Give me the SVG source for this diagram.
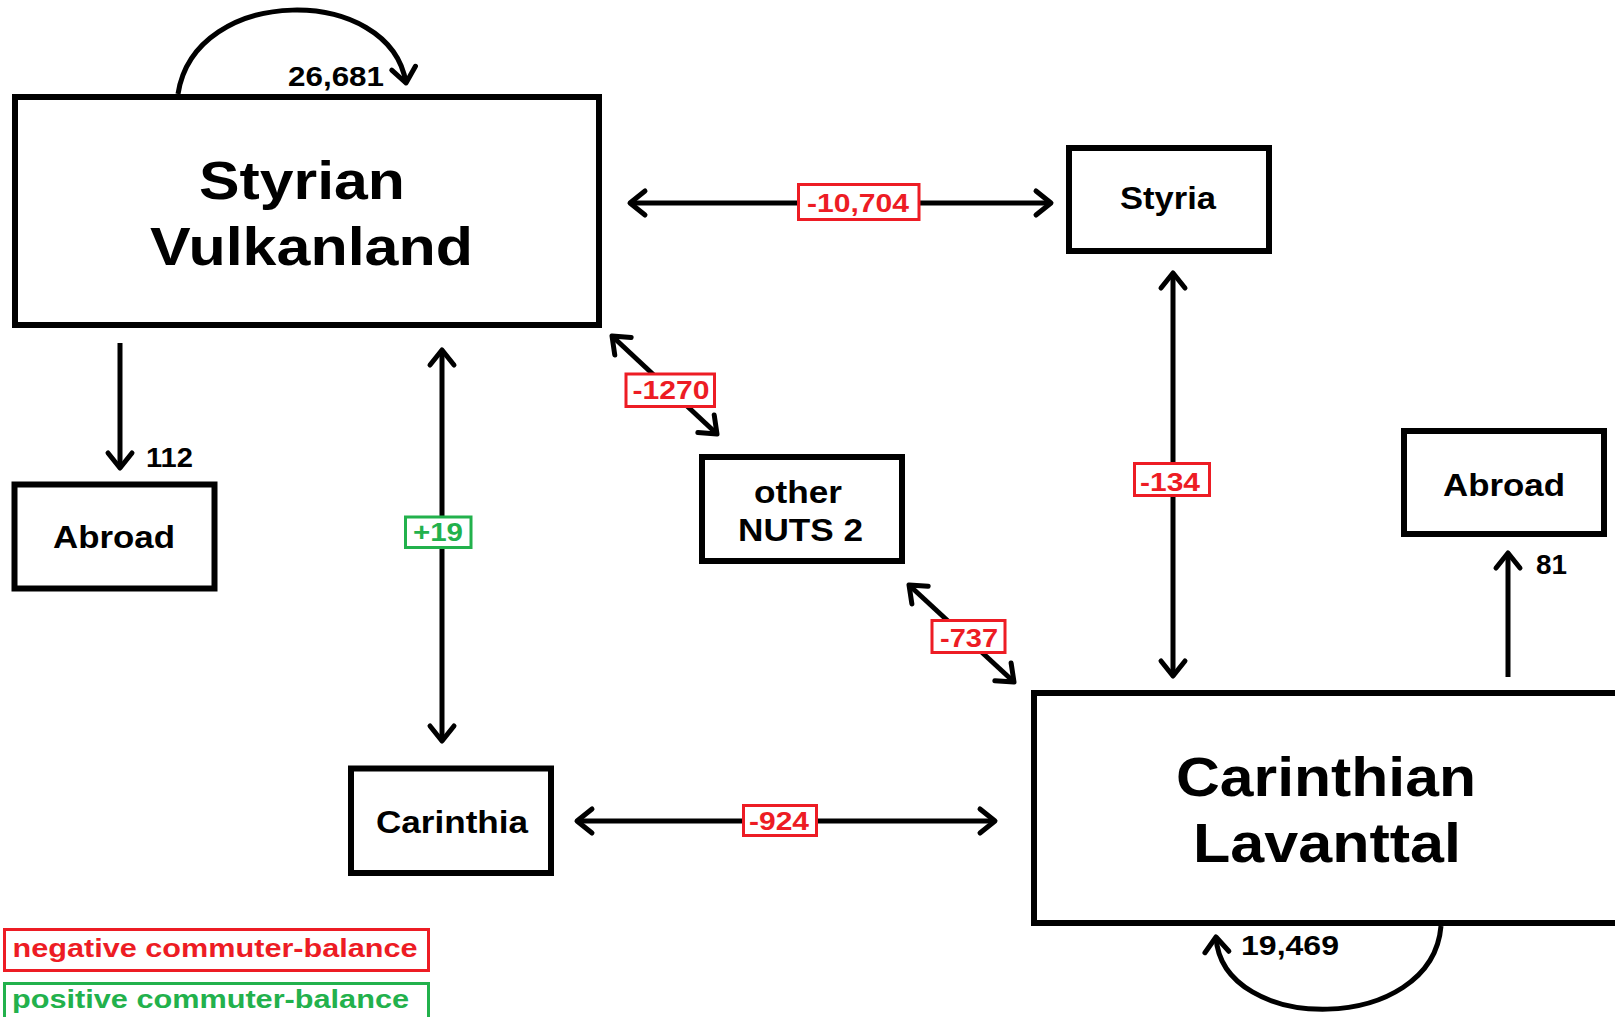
<svg xmlns="http://www.w3.org/2000/svg" width="1615" height="1017" viewBox="0 0 1615 1017">
<style>
.box{fill:#fff;stroke:#000;stroke-width:6}
.t{font-family:"Liberation Sans",Arial,sans-serif;font-weight:bold;fill:#000}
.big{font-size:54px}
.mid{font-size:32px}
.num{font-size:27px}
.lab{font-family:"Liberation Sans",Arial,sans-serif;font-weight:bold;font-size:26px}
.neg{fill:#ED1C24}
.pos{fill:#22B14C}
.nbox{fill:#fff;stroke:#ED1C24;stroke-width:3}
.pbox{fill:#fff;stroke:#22B14C;stroke-width:3}
.c{fill:none;stroke:#000;stroke-width:5}
</style>
<defs>
<marker id="ah" markerUnits="userSpaceOnUse" markerWidth="40" markerHeight="40" viewBox="-20 -20 40 40" refX="0" refY="0" orient="auto-start-reverse" overflow="visible">
<path d="M-15,-12 L0,0 L-15,12" fill="none" stroke="#000" stroke-width="5" stroke-linecap="round" stroke-linejoin="round"/>
</marker>
</defs>
<rect width="1615" height="1017" fill="#fff"/>
<g id="connectors">
<path class="c" d="M178,94 C195,-16 390,-16 406,83" marker-end="url(#ah)"/>
<path class="c" d="M120,343 L120,468" marker-end="url(#ah)"/>
<path class="c" d="M442,350 L442,741" marker-start="url(#ah)" marker-end="url(#ah)"/>
<path class="c" d="M630,203 L1051,203" marker-start="url(#ah)" marker-end="url(#ah)"/>
<path class="c" d="M612,336 L717,434" marker-start="url(#ah)" marker-end="url(#ah)"/>
<path class="c" d="M909,585 L1014,682" marker-start="url(#ah)" marker-end="url(#ah)"/>
<path class="c" d="M1173,273 L1173,676" marker-start="url(#ah)" marker-end="url(#ah)"/>
<path class="c" d="M1508,677 L1508,553" marker-end="url(#ah)"/>
<path class="c" d="M577,821 L995,821" marker-start="url(#ah)" marker-end="url(#ah)"/>
<path class="c" d="M1441,926 C1432,1035 1222,1035 1216,937" marker-end="url(#ah)"/>
</g>
<g id="edge-labels">
<text class="t num" x="336" y="86" text-anchor="middle" textLength="96" lengthAdjust="spacingAndGlyphs">26,681</text>
<text class="t num" x="146" y="466.5" textLength="47" lengthAdjust="spacingAndGlyphs">112</text>
<text class="t num" x="1536" y="574" textLength="31" lengthAdjust="spacingAndGlyphs">81</text>
<text class="t num" x="1241" y="955" textLength="98" lengthAdjust="spacingAndGlyphs">19,469</text>
<g id="lab-10704"><rect class="nbox" x="798.5" y="184.5" width="120.5" height="35"/><text class="lab neg" x="858" y="211.5" text-anchor="middle" textLength="102" lengthAdjust="spacingAndGlyphs">-10,704</text></g>
<g id="lab-1270"><rect class="nbox" x="626" y="374" width="88.5" height="32.5"/><text class="lab neg" x="671" y="399" text-anchor="middle" textLength="77" lengthAdjust="spacingAndGlyphs">-1270</text></g>
<g id="lab-737"><rect class="nbox" x="932" y="620.5" width="73" height="32"/><text class="lab neg" x="969" y="646.5" text-anchor="middle" textLength="58" lengthAdjust="spacingAndGlyphs">-737</text></g>
<g id="lab-134"><rect class="nbox" x="1134.5" y="463.5" width="75" height="32"/><text class="lab neg" x="1170" y="490.5" text-anchor="middle" font-size="28" textLength="60" lengthAdjust="spacingAndGlyphs">-134</text></g>
<g id="lab-924"><rect class="nbox" x="743.5" y="805.5" width="73" height="30"/><text class="lab neg" x="779" y="830" text-anchor="middle" textLength="60" lengthAdjust="spacingAndGlyphs">-924</text></g>
<g id="lab-19"><rect class="pbox" x="405.5" y="517" width="65.5" height="30.5"/><text class="lab pos" x="438" y="540.5" text-anchor="middle" textLength="50" lengthAdjust="spacingAndGlyphs">+19</text></g>
</g>
<g id="node-styrian-vulkanland">
<rect class="box" x="15" y="97" width="584" height="228"/>
<text class="t big" x="302" y="199" text-anchor="middle" textLength="206" lengthAdjust="spacingAndGlyphs">Styrian</text>
<text class="t big" x="311.5" y="265" text-anchor="middle" textLength="323" lengthAdjust="spacingAndGlyphs">Vulkanland</text>
</g>
<g id="node-styria">
<rect class="box" x="1069" y="148" width="200" height="103"/>
<text class="t mid" x="1168" y="209" text-anchor="middle" textLength="96" lengthAdjust="spacingAndGlyphs">Styria</text>
</g>
<g id="node-abroad-left">
<rect class="box" x="14.5" y="484.5" width="200" height="104"/>
<text class="t mid" x="114" y="548" text-anchor="middle" textLength="122" lengthAdjust="spacingAndGlyphs">Abroad</text>
</g>
<g id="node-other-nuts2">
<rect class="box" x="702" y="457" width="200" height="104"/>
<text class="t mid" x="798" y="503" text-anchor="middle" textLength="88" lengthAdjust="spacingAndGlyphs">other</text>
<text class="t mid" x="800.5" y="541" text-anchor="middle" textLength="125" lengthAdjust="spacingAndGlyphs">NUTS 2</text>
</g>
<g id="node-abroad-right">
<rect class="box" x="1404" y="431" width="200" height="103"/>
<text class="t mid" x="1504" y="496" text-anchor="middle" textLength="122" lengthAdjust="spacingAndGlyphs">Abroad</text>
</g>
<g id="node-carinthia">
<rect class="box" x="351" y="768.5" width="200" height="104.5"/>
<text class="t mid" x="452" y="833" text-anchor="middle" textLength="152" lengthAdjust="spacingAndGlyphs">Carinthia</text>
</g>
<g id="node-carinthian-lavanttal">
<rect class="box" x="1034" y="693" width="640" height="230"/>
<text class="t" font-size="56" x="1326" y="796" text-anchor="middle" textLength="300" lengthAdjust="spacingAndGlyphs">Carinthian</text>
<text class="t" font-size="56" x="1327" y="862" text-anchor="middle" textLength="268" lengthAdjust="spacingAndGlyphs">Lavanttal</text>
</g>
<g id="legend">
<rect class="nbox" x="4.5" y="929.5" width="424" height="41"/>
<text class="lab neg" font-size="25" x="12.6" y="956.5" textLength="405" lengthAdjust="spacingAndGlyphs">negative commuter-balance</text>
<rect class="pbox" x="4.5" y="983.5" width="424" height="50"/>
<text class="lab pos" font-size="25" x="12" y="1008" textLength="397" lengthAdjust="spacingAndGlyphs">positive commuter-balance</text>
</g>
</svg>
